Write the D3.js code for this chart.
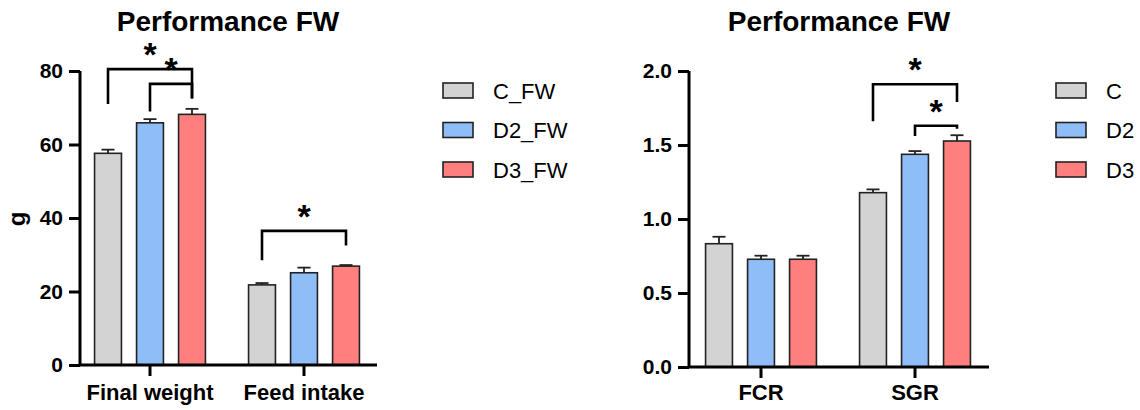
<!DOCTYPE html>
<html><head><meta charset="utf-8">
<script src="https://cdn.jsdelivr.net/npm/d3@7"></script>
<style>body{margin:0;background:#fff}svg{display:block}text{font-family:Arial,"Liberation Sans",sans-serif}</style>
</head><body><svg id="c" width="1140" height="410"></svg>
<script>
// ---- data ----
const titleLeft = "Performance FW";
const titleRight = "Performance FW";
const catsLeft = ["Final weight", "Feed intake"];
const catsRight = ["FCR", "SGR"];
const seriesLeft = ["C_FW", "D2_FW", "D3_FW"];
const seriesRight = ["C", "D2", "D3"];
const meanLeft = [[57.6, 21.8], [65.9, 25.1], [68.2, 26.9]];   // per series, per category
const errLeft  = [[1.0, 0.5], [1.0, 1.4], [1.5, 0.3]];
const meanRight = [[0.833, 1.178], [0.728, 1.437], [0.728, 1.527]];
const errRight  = [[0.047, 0.022], [0.024, 0.022], [0.024, 0.039]];
const ticksLeft = [0, 20, 40, 60, 80];
const ticksRight = [0, 0.5, 1.0, 1.5, 2.0];
const colors = ["#d3d3d3", "#8fbdf8", "#ff7f7f"];
// significance brackets: [category index, series from, series to, bracket value, left leg value, right leg value]
const sigLeft = [[0, 0, 2, 80.5, 71, 72.5], [0, 1, 2, 76.5, 69, 72.5], [1, 0, 2, 36.5, 28.5, 32.5]];
const sigRight = [[1, 0, 2, 1.91, 1.66, 1.79], [1, 1, 2, 1.63, 1.56, 1.61]];

const svg = d3.select("#c");
const FF = "Arial, 'Liberation Sans', sans-serif";

function panel(o) {
  const g = svg.append("g");
  const y = d3.scaleLinear().domain([0, o.ymax]).range([o.y0, 71]);
  const x = d3.scaleBand().domain(o.cats).range([o.xc0 - 77, o.xc0 + 77 + 154]).padding(0);
  const xs = d3.scaleBand().domain(o.series).range([-63, 63]).paddingInner(0.36).paddingOuter(0.18);
  // bars
  o.series.forEach((s, si) => {
    o.cats.forEach((c, ci) => {
      const cx = x(c) + x.bandwidth() / 2 + xs(s);
      const v = o.mean[si][ci], e = o.err[si][ci];
      const xm = cx + xs.bandwidth() / 2;
      g.append("line").attr("x1", xm).attr("x2", xm).attr("y1", y(v)).attr("y2", y(v + e))
        .attr("stroke", "#222").attr("stroke-width", 1.8);
      g.append("line").attr("x1", xm - 6.5).attr("x2", xm + 6.5).attr("y1", y(v + e)).attr("y2", y(v + e))
        .attr("stroke", "#222").attr("stroke-width", 1.8);
      g.append("rect").attr("x", cx).attr("y", y(v)).attr("width", xs.bandwidth()).attr("height", y(0) - y(v))
        .attr("fill", colors[si]).attr("stroke", "#222").attr("stroke-width", 1.6);
    });
  });
  // y axis
  const ya = g.append("g").attr("transform", `translate(${o.ax},0)`)
    .call(d3.axisLeft(y).tickValues(o.ticks).tickSize(11).tickPadding(6).tickFormat(o.fmt));
  ya.attr("font-size", null).attr("font-family", null);
  ya.select(".domain").attr("d", `M0,${y(o.ymax)}V${y(0)}`).attr("stroke", "#000").attr("stroke-width", 3);
  ya.selectAll(".tick line").attr("stroke", "#000").attr("stroke-width", 3);
  ya.selectAll(".tick text").style("font-size", "21px").style("font-weight", "bold").attr("fill", "#000")
    .style("font-family", FF);
  // x axis
  const xa = g.append("g").attr("transform", `translate(0,${y(0)})`)
    .call(d3.axisBottom(x).tickSize(11).tickPadding(0));
  xa.attr("font-size", null).attr("font-family", null);
  xa.select(".domain").attr("d", `M${o.ax},0H${o.xend}`).attr("stroke", "#000").attr("stroke-width", 3);
  xa.selectAll(".tick line").attr("stroke", "#000").attr("stroke-width", 3);
  xa.selectAll(".tick text").attr("dy", null).attr("y", 400 - o.y0).style("font-size", "22px").style("font-weight", "bold")
    .attr("fill", "#000").style("font-family", FF);
  // title
  g.append("text").attr("x", o.tx).attr("y", 31).attr("text-anchor", "middle")
    .style("font-size", "28px").style("font-weight", "bold").text(o.title);
  // y label
  if (o.ylabel) {
    g.append("text").attr("transform", `translate(25,219) rotate(-90)`).attr("text-anchor", "middle")
      .style("font-size", "24px").style("font-weight", "bold").text(o.ylabel);
  }
  // significance
  o.sig.forEach(s => {
    const c = o.cats[s[0]];
    const x1 = x(c) + x.bandwidth() / 2 + xs(o.series[s[1]]) + xs.bandwidth() / 2;
    const x2 = x(c) + x.bandwidth() / 2 + xs(o.series[s[2]]) + xs.bandwidth() / 2;
    g.append("path").attr("d", `M${x1},${y(s[4])}V${y(s[3])}H${x2}V${y(s[5])}`)
      .attr("fill", "none").attr("stroke", "#000").attr("stroke-width", 2.6);
    g.append("text").attr("x", (x1 + x2) / 2).attr("y", y(s[3]) - 15).attr("text-anchor", "middle")
      .style("font-size", "34px").style("font-weight", "bold").attr("dy", "0.35em")
      .text("*");
  });
  // legend
  o.series.forEach((s, i) => {
    const ly = 83 + i * 39.5;
    g.append("rect").attr("x", o.lx).attr("y", ly).attr("width", 30).attr("height", 15)
      .attr("fill", colors[i]).attr("stroke", "#222").attr("stroke-width", 1.6);
    g.append("text").attr("x", o.lx + 50).attr("y", ly + 15.5).style("font-size", "22px").attr("fill", "#000").text(s);
  });
}

panel({ymax: 80, y0: 365, ax: 80, xc0: 150, xend: 377, cats: catsLeft, series: seriesLeft,
  mean: meanLeft, err: errLeft, ticks: ticksLeft, fmt: d3.format("d"), title: titleLeft, tx: 228,
  ylabel: "g", sig: sigLeft, lx: 443});
panel({ymax: 2.0, y0: 367, ax: 689, xc0: 761, xend: 989, cats: catsRight, series: seriesRight,
  mean: meanRight, err: errRight, ticks: ticksRight, fmt: d3.format(".1f"), title: titleRight, tx: 839,
  ylabel: null, sig: sigRight, lx: 1056});
</script></body></html>
